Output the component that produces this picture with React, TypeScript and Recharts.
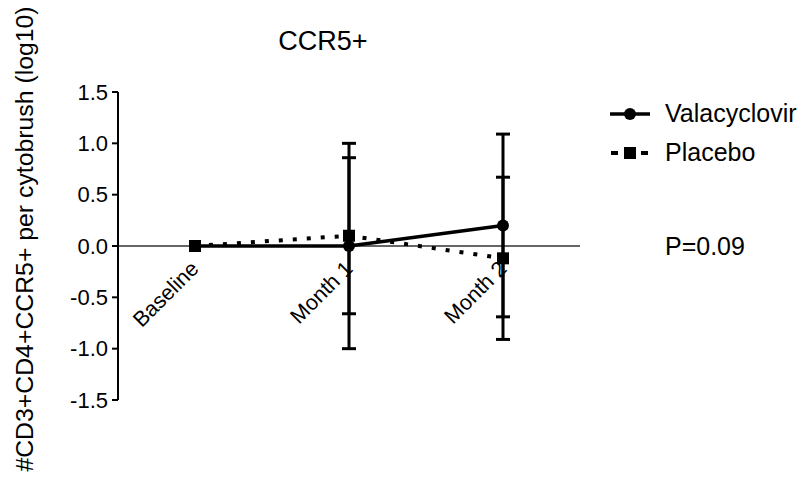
import { LineChart, Line, XAxis, YAxis, ErrorBar, ReferenceLine, Legend } from 'recharts'

const timepoints = ['Baseline', 'Month 1', 'Month 2']
const valacyclovir = [0, 0, 0.2]
const valacyclovirErr = [0, 1.0, 0.89]
const placebo = [0, 0.1, -0.12]
const placeboErr = [0, 0.76, 0.79]
const yTicks = [-1.5, -1.0, -0.5, 0, 0.5, 1.0, 1.5]

const FONT = '"Liberation Sans", Arial, sans-serif'
const W = 803
const H = 486
const PLOT_TOP = 92
const PLOT_BOTTOM = 400
const PLOT_RIGHT = 580
const X_AXIS_H = 30
const Y_MIN = -1.5
const Y_MAX = 1.5
// pixel row of y=0, where the category labels hang
const zeroY = PLOT_TOP + ((PLOT_BOTTOM - PLOT_TOP) * (Y_MAX - 0)) / (Y_MAX - Y_MIN)

const data = timepoints.map((t, i) => ({
  time: t,
  val: valacyclovir[i],
  valErr: valacyclovirErr[i],
  pla: placebo[i],
  plaErr: placeboErr[i],
}))

const XTick = (props: any) => {
  const { x, payload } = props
  const tx = x + 5
  const ty = zeroY + 24
  return (
    <text
      x={tx}
      y={ty}
      transform={`rotate(-45 ${tx} ${ty})`}
      textAnchor="end"
      fontSize={21.5}
      fontFamily={FONT}
      fill="#000"
    >
      {payload.value}
    </text>
  )
}

const SquareDot = (props: any) => {
  const { cx, cy, index } = props
  return <rect key={`sq-${index}`} x={cx - 6} y={cy - 6} width={12} height={12} fill="#000" />
}

const LegendContent = () => (
  <div style={{ fontFamily: FONT, fontSize: 25, color: '#000' }}>
    <div style={{ display: 'flex', alignItems: 'center', height: 39 }}>
      <svg width={55} height={20}>
        <line x1={5} y1={10} x2={45} y2={10} stroke="#000" strokeWidth={3.5} />
        <circle cx={25} cy={10} r={6} fill="#000" />
      </svg>
      <span style={{ marginLeft: 5 }}>Valacyclovir</span>
    </div>
    <div style={{ display: 'flex', alignItems: 'center', height: 39 }}>
      <svg width={55} height={20}>
        <line x1={6} y1={10} x2={44} y2={10} stroke="#000" strokeWidth={4} strokeDasharray="7 8" />
        <rect x={19} y={4} width={12} height={12} fill="#000" />
      </svg>
      <span style={{ marginLeft: 5 }}>Placebo</span>
    </div>
  </div>
)

export default function App() {
  return (
    <div style={{ position: 'absolute', left: 0, top: 0, width: W, height: H, background: '#fff', fontFamily: FONT }}>
      <div
        style={{
          position: 'absolute',
          left: 323,
          top: 28,
          transform: 'translateX(-50%)',
          fontSize: 27,
          lineHeight: '27px',
          whiteSpace: 'nowrap',
        }}
      >
        CCR5+
      </div>
      <div style={{ position: 'absolute', left: 665, top: 234, fontSize: 25, lineHeight: '25px' }}>P=0.09</div>

      <LineChart
        width={W}
        height={H}
        data={data}
        margin={{ top: PLOT_TOP, right: W - PLOT_RIGHT, bottom: H - PLOT_BOTTOM - X_AXIS_H, left: 0 }}
      >
        <XAxis
          dataKey="time"
          type="category"
          height={X_AXIS_H}
          padding={{ left: 77, right: 77 }}
          axisLine={false}
          tickLine={false}
          tick={<XTick />}
          interval={0}
        />
        <YAxis
          type="number"
          domain={[Y_MIN, Y_MAX]}
          ticks={yTicks}
          width={118}
          tickSize={6}
          tickMargin={4}
          tickFormatter={(v: number) => v.toFixed(1)}
          axisLine={{ stroke: '#000', strokeWidth: 2 }}
          tickLine={{ stroke: '#000', strokeWidth: 2 }}
          tick={{ fill: '#000', fontSize: 22, fontFamily: FONT }}
          label={{
            content: () => (
              <text
                x={33}
                y={239}
                transform="rotate(-90 33 239)"
                textAnchor="middle"
                fontSize={24.8}
                fontFamily={FONT}
                fill="#000"
              >
                #CD3+CD4+CCR5+ per cytobrush (log10)
              </text>
            ),
          }}
        />
        <ReferenceLine y={0} stroke="#333" strokeWidth={1.5} />
        <Line
          dataKey="val"
          name="Valacyclovir"
          stroke="#000"
          strokeWidth={3.5}
          dot={{ r: 6, fill: '#000', stroke: '#000', strokeWidth: 0 }}
          isAnimationActive={false}
        >
          <ErrorBar dataKey="valErr" width={7} stroke="#000" strokeWidth={3} direction="y" />
        </Line>
        <Line
          dataKey="pla"
          name="Placebo"
          stroke="#000"
          strokeWidth={4}
          strokeDasharray="4 10"
          dot={<SquareDot />}
          isAnimationActive={false}
        >
          <ErrorBar dataKey="plaErr" width={7} stroke="#000" strokeWidth={3} direction="y" />
        </Line>
        <Legend
          layout="vertical"
          verticalAlign="middle"
          align="center"
          content={<LegendContent />}
          wrapperStyle={{ position: 'absolute', left: 605, top: 94, width: 198 }}
        />
      </LineChart>
    </div>
  )
}
